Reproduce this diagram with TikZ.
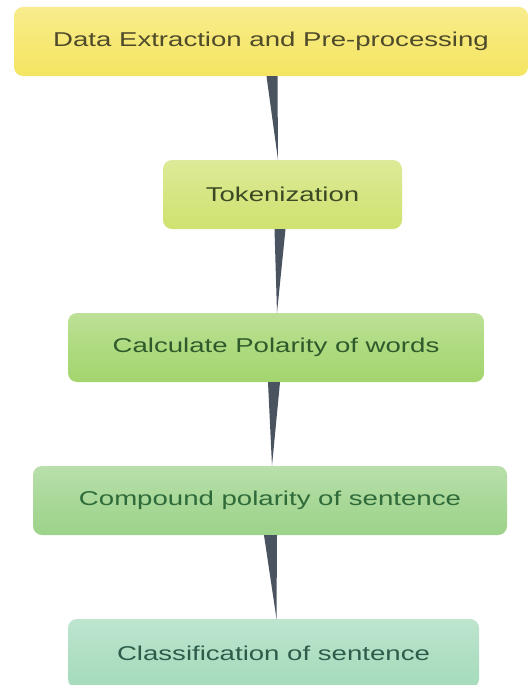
\documentclass[tikz,border=0pt]{standalone}
\usepackage{fontspec}
\newfontfamily\boxfont[FakeStretch=1.38]{Liberation Sans}
\usetikzlibrary{calc}
\definecolor{cA}{HTML}{F5E562}\definecolor{tA}{HTML}{4E4A2A}
\definecolor{cB}{HTML}{D0E271}\definecolor{tB}{HTML}{3B4A24}
\definecolor{cC}{HTML}{A3D56E}\definecolor{tC}{HTML}{2E5A2C}
\definecolor{cD}{HTML}{9DD38A}\definecolor{tD}{HTML}{2E6A3A}
\definecolor{cE}{HTML}{A5DBBC}\definecolor{tE}{HTML}{2C5C4A}
\definecolor{wedge}{HTML}{4A5461}
\tikzset{
  stepbox/.style={rectangle, rounded corners=9pt, minimum height=69pt, inner sep=0pt,
    font=\boxfont\fontsize{20}{24}\selectfont},
  boxcol/.style={top color=#1!72!white, bottom color=#1, middle color=#1!88!white},
  link/.style={fill=wedge, draw=none}
}
\begin{document}
\begin{tikzpicture}[x=1pt,y=-1pt]
\useasboundingbox (0,0) rectangle (529,685);
\clip (0,0) rectangle (529,685);
\fill[white] (0,0) rectangle (529,685);
\node[stepbox, minimum width=514pt, boxcol=cA, text=tA] (b1) at (271,41.5) {Data Extraction and Pre-processing};
\node[stepbox, minimum width=239pt, boxcol=cB, text=tB] (b2) at (282.5,194.5) {Tokenization};
\node[stepbox, minimum width=416pt, boxcol=cC, text=tC] (b3) at (276,347.5) {Calculate Polarity of words};
\node[stepbox, minimum width=474pt, boxcol=cD, text=tD] (b4) at (270,500.5) {Compound polarity of sentence};
\node[stepbox, minimum width=411pt, boxcol=cE, text=tE] (b5) at (273.5,653.5) {Classification of sentence};
\fill[link] ($(b1.south)+(-4.5,0)$) -- ($(b1.south)+(6.5,0)$) -- ($(b2.north)+(-4.5,0)$) -- cycle;
\fill[link] ($(b2.south)+(-8,0)$) -- ($(b2.south)+(3,0)$) -- ($(b3.north)+(1,0)$) -- cycle;
\fill[link] ($(b3.south)+(-8,0)$) -- ($(b3.south)+(4,0)$) -- ($(b4.north)+(2,0)$) -- cycle;
\fill[link] ($(b4.south)+(-6,0)$) -- ($(b4.south)+(7,0)$) -- ($(b5.north)+(3,0)$) -- cycle;
\end{tikzpicture}
\end{document}
